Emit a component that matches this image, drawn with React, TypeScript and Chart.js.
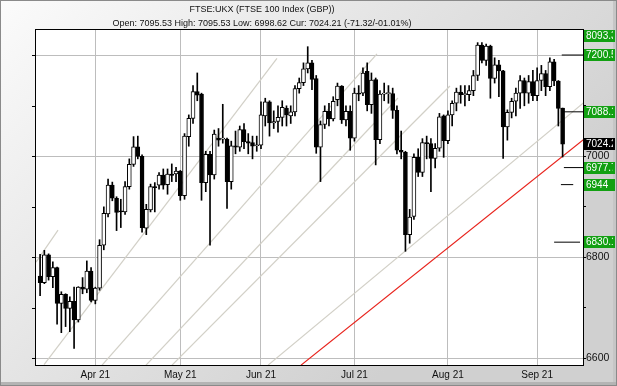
import React, { useEffect, useRef } from "react";
import { Chart, registerables } from "chart.js";

Chart.register(...registerables);

// ---------- data ----------
const dates = [
  "2021-03-15","2021-03-16","2021-03-17","2021-03-18","2021-03-19","2021-03-22","2021-03-23","2021-03-24","2021-03-25","2021-03-26","2021-03-29","2021-03-30","2021-03-31",
  "2021-04-01","2021-04-06","2021-04-07","2021-04-08","2021-04-09","2021-04-12","2021-04-13","2021-04-14","2021-04-15","2021-04-16","2021-04-19","2021-04-20","2021-04-21","2021-04-22","2021-04-23","2021-04-26","2021-04-27","2021-04-28","2021-04-29","2021-04-30",
  "2021-05-04","2021-05-05","2021-05-06","2021-05-07","2021-05-10","2021-05-11","2021-05-12","2021-05-13","2021-05-14","2021-05-17","2021-05-18","2021-05-19","2021-05-20","2021-05-21","2021-05-24","2021-05-25","2021-05-26","2021-05-27","2021-05-28",
  "2021-06-01","2021-06-02","2021-06-03","2021-06-04","2021-06-07","2021-06-08","2021-06-09","2021-06-10","2021-06-11","2021-06-14","2021-06-15","2021-06-16","2021-06-17","2021-06-18","2021-06-21","2021-06-22","2021-06-23","2021-06-24","2021-06-25","2021-06-28","2021-06-29","2021-06-30",
  "2021-07-01","2021-07-02","2021-07-05","2021-07-06","2021-07-07","2021-07-08","2021-07-09","2021-07-12","2021-07-13","2021-07-14","2021-07-15","2021-07-16","2021-07-19","2021-07-20","2021-07-21","2021-07-22","2021-07-23","2021-07-26","2021-07-27","2021-07-28","2021-07-29","2021-07-30",
  "2021-08-02","2021-08-03","2021-08-04","2021-08-05","2021-08-06","2021-08-09","2021-08-10","2021-08-11","2021-08-12","2021-08-13","2021-08-16","2021-08-17","2021-08-18","2021-08-19","2021-08-20","2021-08-23","2021-08-24","2021-08-25","2021-08-26","2021-08-27","2021-08-31",
  "2021-09-01","2021-09-02","2021-09-03","2021-09-06","2021-09-07","2021-09-08","2021-09-09",
];

const opens = [
  6763,6750,6805,6762,6780,6709,6727,6699,6713,6676,6741,6737,6773,
  6715,6739,6824,6886,6943,6917,6891,6890,6940,6984,7019,7000,6858,6894,6940,6943,6963,6944,6965,6965,
  6971,6922,7039,7075,7128,7123,6948,7004,6963,7036,7034,7034,6950,7021,7018,7053,7029,7027,7021,
  7022,7080,7108,7066,7069,7077,7095,7080,7088,7134,7146,7173,7185,7154,7018,7063,7089,7074,7112,7139,7072,7089,
  7036,7125,7125,7168,7102,7152,7033,7123,7124,7124,7091,7012,7008,6845,6881,6998,6968,7027,7025,6996,7016,7080,
  7031,7082,7105,7127,7122,7122,7130,7160,7220,7190,7218,7154,7181,7169,7058,7087,7109,7125,7150,7125,7148,
  7120,7150,7164,7138,7187,7149,7095.53,
];

const highs = [
  6806,6814,6807,6791,6781,6732,6728,6722,6741,6742,6760,6793,6780,
  6741,6835,6900,6955,6949,6920,6915,6950,6995,7039,7040,7003,6905,6945,6948,6968,6975,6975,6985,6978,
  6972,7045,7082,7140,7165,7125,7010,7010,7052,7055,7103,7036,7030,7050,7060,7065,7045,7040,7040,
  7108,7115,7110,7090,7100,7110,7100,7100,7140,7155,7185,7217,7190,7160,7070,7100,7105,7118,7145,7140,7100,7100,
  7135,7140,7175,7185,7165,7155,7130,7145,7140,7135,7100,7050,7010,6895,7005,7015,7035,7040,7035,7025,7085,7082,
  7090,7110,7135,7140,7140,7140,7170,7225,7225,7222,7220,7195,7190,7170,7092,7115,7135,7160,7155,7160,7170,
  7175,7180,7170,7195,7192,7150,7095.53,
];

const lows = [
  6724,6748,6755,6740,6668,6651,6663,6653,6620,6672,6728,6730,6712,
  6708,6735,6815,6880,6912,6853,6859,6885,6935,6980,6995,6850,6845,6890,6890,6935,6935,6925,6950,6950,
  6913,6915,7020,7065,7110,6913,6930,6824,6955,7020,7026,6897,6935,7005,7010,7015,7005,6995,7010,
  7015,7060,7040,7055,7048,7060,7060,7065,7080,7125,7140,7165,7132,7006,6950,7055,7060,7070,7100,7065,7060,7012,
  7030,7110,7120,7090,7085,6983,7025,7110,7105,7075,7005,6995,6812,6828,6875,6960,6960,6995,6930,6977,7010,6998,
  7025,7060,7090,7105,7100,7110,7120,7150,7185,7180,7115,7145,7118,6996,7032,7076,7080,7095,7100,7105,7110,
  7110,7130,7120,7130,7140,7060,6998.62,
];

const closes = [
  6750,6805,6762,6780,6709,6727,6699,6713,6676,6741,6737,6773,6715,
  6739,6824,6887,6943,6917,6889,6890,6940,6984,7019,7000,6859,6895,6940,6938,6963,6943,6965,6962,6971,
  6922,7040,7075,7128,7121,6948,7004,6963,7044,7032,7034,6950,7021,7018,7053,7029,7026,7020,7022,
  7082,7108,7066,7069,7077,7097,7082,7088,7134,7146,7173,7185,7152,7018,7063,7089,7074,7109,7139,7072,7089,7036,
  7125,7123,7165,7102,7151,7033,7123,7125,7124,7091,7012,7008,6845,6880,6998,6968,7027,7025,6996,7016,7078,7031,
  7082,7105,7127,7122,7122,7130,7160,7220,7190,7218,7154,7181,7169,7058,7087,7109,7125,7150,7125,7148,7120,
  7150,7164,7138,7187,7149,7095,7024.21,
];

const monthTickLabels = ["Apr 21", "May 21", "Jun 21", "Jul 21", "Aug 21", "Sep 21"];
const yTickValues = [6600, 6700, 6800, 6900, 7000, 7100, 7200];
const yLabelledTicks = [6600, 6800, 7000, 7200];

// trend lines: [x (bar index), price] pairs
const greyTrendLines = [
  [[-0.96, 6790.7], [4.22, 6854.1]],
  [[0.93, 6587.7], [55.76, 7193.7]],
  [[14.58, 6586.7], [79.3, 7202.6]],
  [[24.93, 6586.7], [84.24, 7115.4]],
  [[31.05, 6586.7], [96.48, 7139.2]],
  [[53.65, 6586.7], [128.5, 7110.0]],
];
const redTrendLine = [[61.41, 6586.7], [128.5, 7037.0]];

// price levels on the right axis
const levelValues = [8093.3, 7200.5, 7088.1, 7024.21, 6977.7, 6944, 6830.1];
const levelTexts = ["8093.3", "7200.5", "7088.1", "7024.2", "6977.7", "6944", "6830.1"];
const levelIsCurrent = [false, false, false, true, false, false, false];
const levelLineFrom = [null, 122.8, 123.0, null, 123.3, 122.6, 121.0];
const levelLineTo = [null, 127.8, 127.8, null, 127.8, 125.5, 127.1];

const titleText = "FTSE:UKX (FTSE 100 Index (GBP))";
const quoteText = "Open: 7095.53 High: 7095.53 Low: 6998.62 Cur: 7024.21 (-71.32/-01.01%)";

// ---------- helpers ----------
const monthTickIndex: number[] = [];
dates.forEach((d, i) => {
  if (i > 0 && d.slice(5, 7) !== dates[i - 1].slice(5, 7)) monthTickIndex.push(i);
});

const FONT = '"Liberation Sans", Arial, sans-serif';

const framePlugin = {
  id: "frame",
  beforeDraw(chart: any) {
    const { ctx, chartArea: a, width: W, height: H } = chart;
    ctx.save();
    const g = ctx.createLinearGradient(0, 0, W * 0.6, H);
    g.addColorStop(0, "#fbfbfb");
    g.addColorStop(1, "#d0d0d0");
    ctx.fillStyle = g;
    ctx.fillRect(0, 0, W, H);
    // bevel on right/bottom
    ctx.fillStyle = "#c6c6c6";
    ctx.fillRect(W - 4, 0, 4, H);
    ctx.fillStyle = "#b4b4b4";
    ctx.fillRect(0, H - 4, W, 4);
    ctx.strokeStyle = "#8a8a8a";
    ctx.lineWidth = 1;
    ctx.strokeRect(0.5, 0.5, W - 1, H - 1);
    ctx.fillStyle = "#ffffff";
    ctx.fillRect(a.left, a.top, a.right - a.left, a.bottom - a.top);
    ctx.restore();
  },
  afterDraw(chart: any) {
    const { ctx, chartArea: a } = chart;
    const ys = chart.scales.y;
    ctx.save();
    // plot frame
    ctx.strokeStyle = "#000";
    ctx.lineWidth = 1;
    ctx.strokeRect(Math.round(a.left) + 0.5, Math.round(a.top) + 0.5, Math.round(a.right - a.left), Math.round(a.bottom - a.top));
    // left minor ticks
    yTickValues.forEach((v) => {
      const y = Math.round(ys.getPixelForValue(v)) + 0.5;
      ctx.beginPath();
      ctx.moveTo(a.left - 3, y);
      ctx.lineTo(a.left, y);
      ctx.stroke();
    });
    // level boxes
    ctx.font = `10px ${FONT}`;
    ctx.textBaseline = "middle";
    ctx.textAlign = "left";
    const bx = Math.round(a.right) + 1;
    const bw = 31;
    levelValues.forEach((v, i) => {
      let y = ys.getPixelForValue(v);
      if (v > ys.max) y = a.top + 7;
      y = Math.round(y);
      ctx.fillStyle = levelIsCurrent[i] ? "#000000" : "#12a012";
      ctx.fillRect(bx, y - 6, bw, 12);
      ctx.save();
      ctx.beginPath();
      ctx.rect(bx, y - 6, bw - 2, 12);
      ctx.clip();
      ctx.fillStyle = "#ffffff";
      ctx.fillText(levelTexts[i], bx + 2, y + 0.5);
      ctx.restore();
    });
    // header
    ctx.fillStyle = "#111";
    ctx.textAlign = "center";
    ctx.font = `9px ${FONT}`;
    ctx.fillText(titleText, 262, 9.5);
    ctx.fillText(quoteText, 262, 23.5);
    ctx.restore();
  },
};

export default function App() {
  const canvasRef = useRef<HTMLCanvasElement | null>(null);

  useEffect(() => {
    if (!canvasRef.current) return;
    Chart.defaults.font.family = FONT;

    const bodyColors = closes.map((c, i) => (c >= opens[i] ? "#ffffff" : "#000000"));

    const datasets: any[] = [
      {
        type: "bar",
        label: "body",
        data: opens.map((o, i) => ({ x: i, y: [o, closes[i]] })),
        backgroundColor: bodyColors,
        borderColor: "#000000",
        borderWidth: 1,
        borderSkipped: false,
        barThickness: 4,
        minBarLength: 1,
        grouped: false,
        order: 0,
      },
      {
        type: "bar",
        label: "wick",
        data: lows.map((l, i) => ({ x: i, y: [l, highs[i]] })),
        backgroundColor: "#000000",
        borderWidth: 0,
        barThickness: 1,
        grouped: false,
        order: 1,
      },
    ];

    levelValues.forEach((v, i) => {
      if (levelLineFrom[i] === null) return;
      datasets.push({
        type: "line",
        label: "level" + i,
        data: [
          { x: levelLineFrom[i], y: v },
          { x: levelLineTo[i], y: v },
        ],
        borderColor: "#000000",
        borderWidth: 1,
        pointRadius: 0,
        order: 2,
      });
    });

    datasets.push({
      type: "line",
      label: "support",
      data: redTrendLine.map(([x, y]) => ({ x, y })),
      borderColor: "#e8231c",
      borderWidth: 1.2,
      pointRadius: 0,
      order: 3,
    });

    greyTrendLines.forEach((ln, i) => {
      datasets.push({
        type: "line",
        label: "trend" + i,
        data: ln.map(([x, y]) => ({ x, y })),
        borderColor: "#d2d0c7",
        borderWidth: 1.2,
        pointRadius: 0,
        order: 4,
      });
    });

    const chart = new Chart(canvasRef.current, {
      type: "bar",
      data: { datasets },
      options: {
        animation: false,
        responsive: false,
        devicePixelRatio: 1,
        events: [],
        layout: { padding: { left: 35, top: 29, right: 0, bottom: 0 } },
        plugins: { legend: { display: false }, tooltip: { enabled: false }, title: { display: false } },
        scales: {
          x: {
            type: "linear",
            min: -1.2,
            max: 127.8,
            offset: false,
            border: { display: false },
            grid: { color: "#bdbdbd", offset: false, drawTicks: false, lineWidth: 1 },
            afterBuildTicks: (scale: any) => {
              scale.ticks = monthTickIndex.map((v) => ({ value: v }));
            },
            afterFit: (scale: any) => {
              scale.height = 21;
            },
            ticks: {
              autoSkip: false,
              maxRotation: 0,
              padding: 4,
              color: "#111",
              font: { size: 10, family: FONT },
              callback: (_v: any, i: number) => monthTickLabels[i] ?? "",
            },
          },
          y: {
            type: "linear",
            position: "right",
            min: 6587,
            max: 7252,
            border: { display: false },
            grid: {
              color: (c: any) => (c.tick && yLabelledTicks.includes(c.tick.value) ? "#bdbdbd" : "rgba(0,0,0,0)"),
              tickColor: "#000000",
              tickLength: 3,
              drawTicks: true,
            },
            afterBuildTicks: (scale: any) => {
              scale.ticks = yTickValues.map((v) => ({ value: v }));
            },
            afterFit: (scale: any) => {
              scale.width = 34;
            },
            ticks: {
              padding: 0,
              color: "#111",
              font: { size: 10.5, family: FONT },
              callback: (v: any) => (yLabelledTicks.includes(Number(v)) ? String(v) : ""),
            },
          },
        },
      } as any,
      plugins: [framePlugin],
    });

    return () => chart.destroy();
  }, []);

  return (
    <div style={{ position: "fixed", left: 0, top: 0, width: 617, height: 386 }}>
      <canvas ref={canvasRef} width={617} height={386} style={{ display: "block" }} />
    </div>
  );
}
